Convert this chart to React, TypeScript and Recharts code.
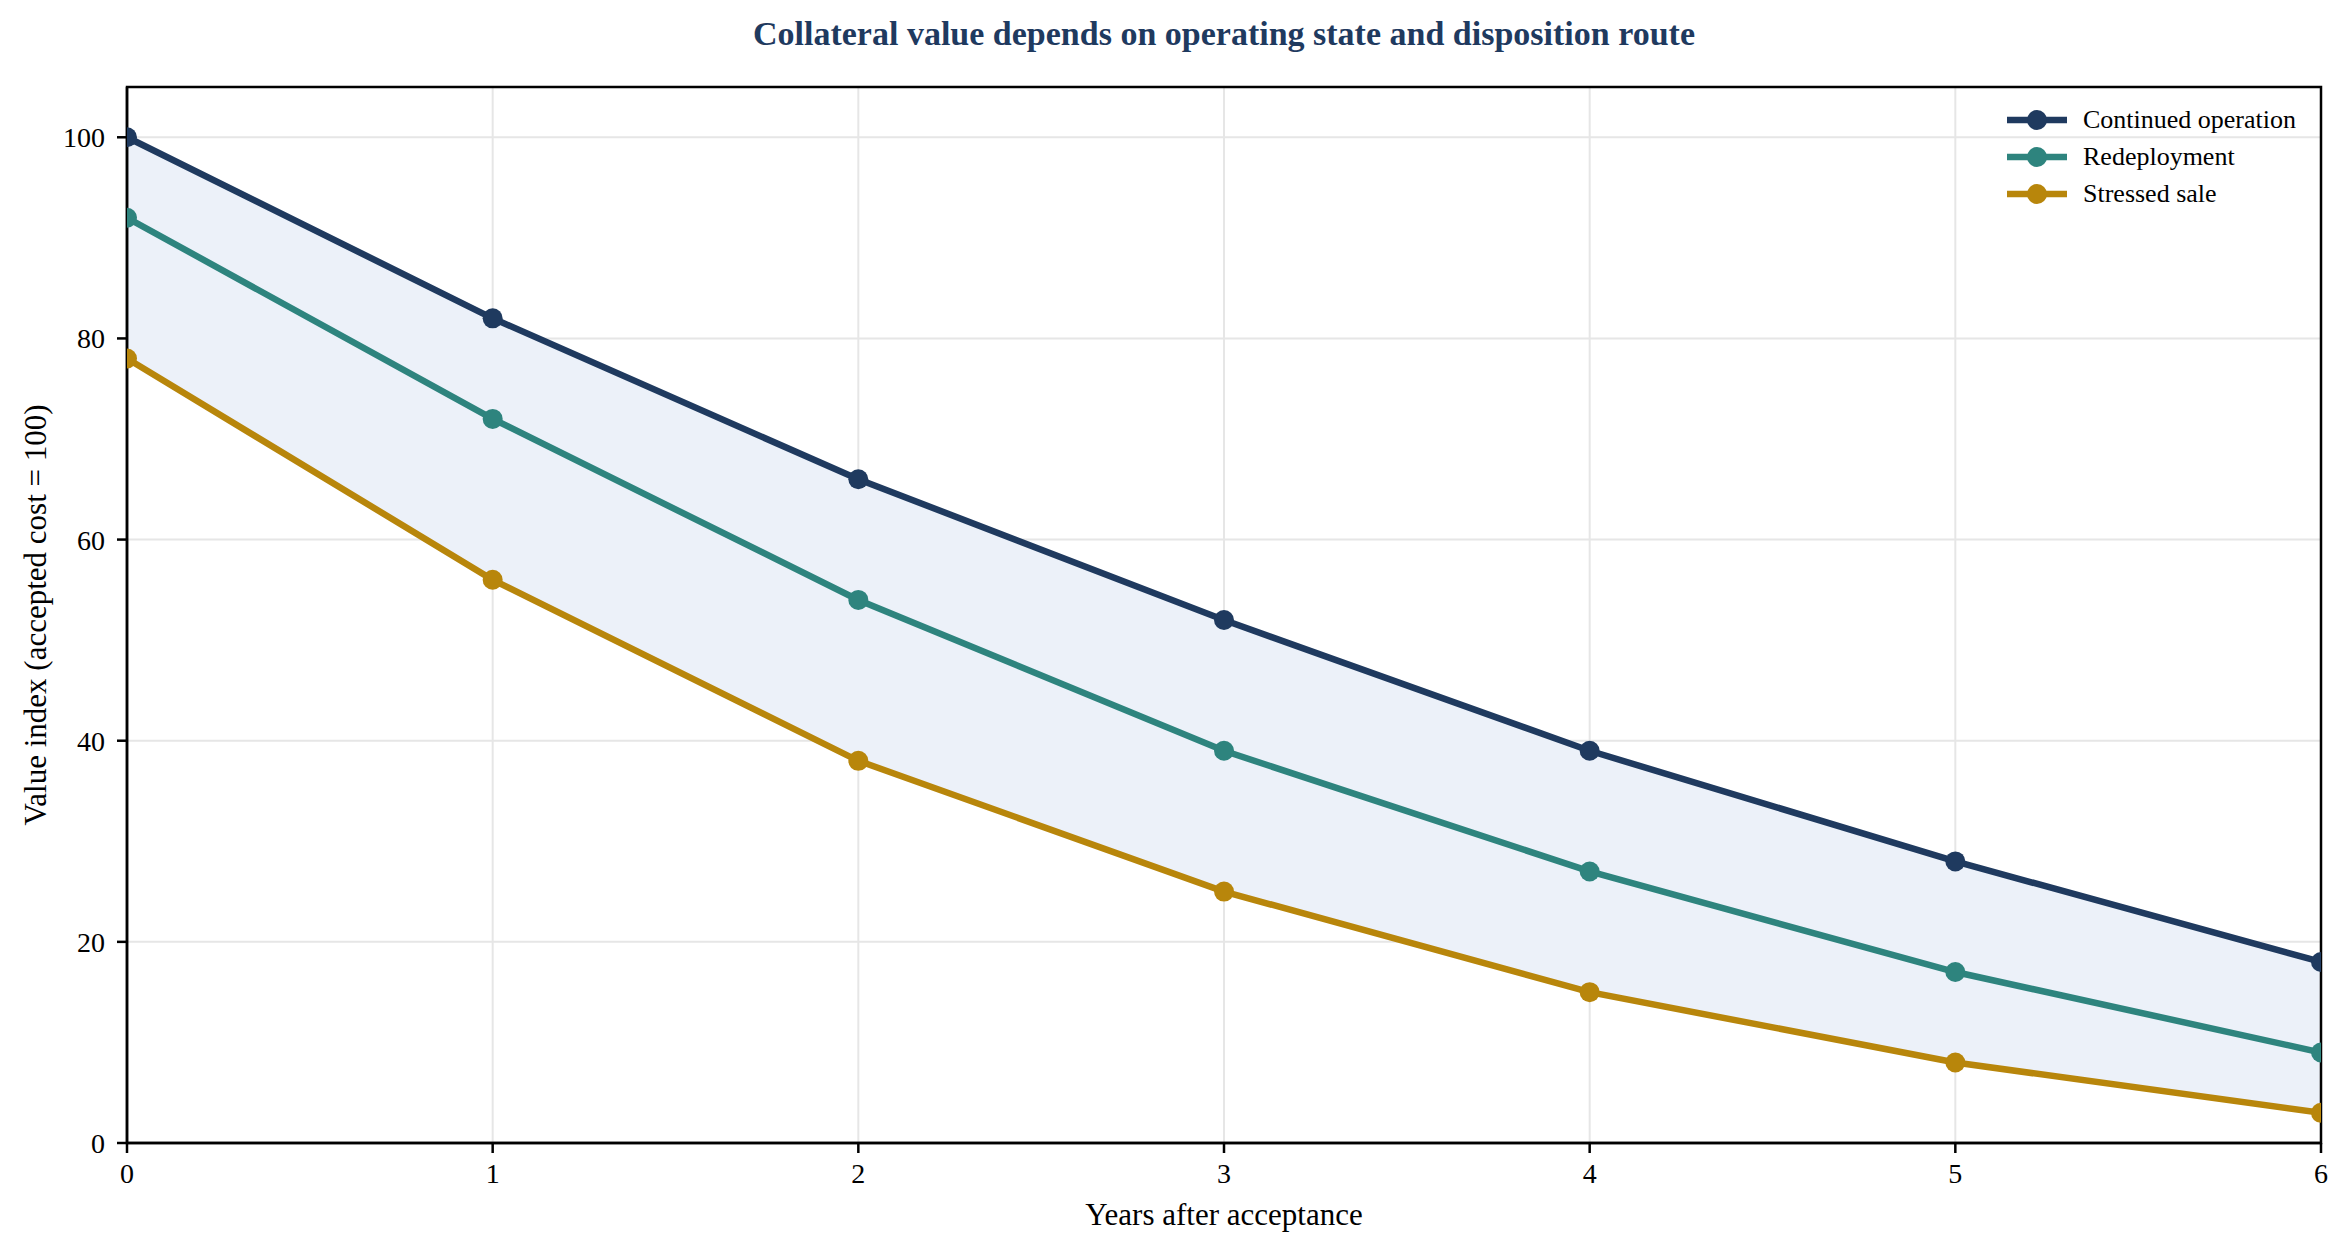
import React from 'react';
import {
  ComposedChart,
  Line,
  Area,
  XAxis,
  YAxis,
  CartesianGrid,
  ReferenceArea,
} from 'recharts';

const years = [0, 1, 2, 3, 4, 5, 6];
const continuedOperation = [100, 82, 66, 52, 39, 28, 18];
const redeployment = [92, 72, 54, 39, 27, 17, 9];
const stressedSale = [78, 56, 38, 25, 15, 8, 3];
const xTicks = [0, 1, 2, 3, 4, 5, 6];
const yTicks = [0, 20, 40, 60, 80, 100];

const seriesNames = ['Continued operation', 'Redeployment', 'Stressed sale'];
const seriesColors = ['#1f3a5f', '#2e847e', '#b8860b'];

const data = years.map((y, i) => ({
  year: y,
  continued: continuedOperation[i],
  redeploy: redeployment[i],
  stressed: stressedSale[i],
  band: [stressedSale[i], continuedOperation[i]],
}));

const FONT = '"Liberation Serif", "Times New Roman", serif';
const W = 2349;
const H = 1253;

const tickStyle = { fontFamily: FONT, fontSize: 28, fill: '#000' };

const LegendBox = () => (
  <div
    style={{
      position: 'absolute',
      left: 2007,
      top: 101,
      fontFamily: FONT,
      fontSize: 26,
      color: '#000',
    }}
  >
    {seriesNames.map((name, i) => (
      <div key={name} style={{ display: 'flex', alignItems: 'center', height: 37 }}>
        <svg width={60} height={24} style={{ display: 'block' }}>
          <line x1={0} y1={12} x2={60} y2={12} stroke={seriesColors[i]} strokeWidth={6.5} />
          <circle cx={30} cy={12} r={10} fill={seriesColors[i]} />
        </svg>
        <span style={{ marginLeft: 16, lineHeight: '37px', whiteSpace: 'nowrap' }}>{name}</span>
      </div>
    ))}
  </div>
);

export default function App() {
  return (
    <div style={{ position: 'absolute', left: 0, top: 0, width: W, height: H, background: '#fff' }}>
      <div
        style={{
          position: 'absolute',
          left: 127,
          width: 2194,
          top: 14,
          textAlign: 'center',
          fontFamily: FONT,
          fontWeight: 'bold',
          fontSize: 34,
          color: '#1f3a5f',
          lineHeight: '40px',
        }}
      >
        Collateral value depends on operating state and disposition route
      </div>
      <ComposedChart
        width={W}
        height={H}
        data={data}
        margin={{ top: 87, right: 28, left: 0, bottom: 0 }}
      >
        <CartesianGrid stroke="#e6e6e6" strokeWidth={2} />
        <XAxis
          dataKey="year"
          type="number"
          domain={[0, 6]}
          ticks={xTicks}
          allowDataOverflow
          height={110}
          tickSize={10}
          tickMargin={10}
          tick={tickStyle}
          axisLine={{ stroke: '#000', strokeWidth: 2.5 }}
          tickLine={{ stroke: '#000', strokeWidth: 2.5 }}
          label={({ viewBox }: any) => (
            <text
              x={viewBox.x + viewBox.width / 2}
              y={viewBox.y + 82}
              textAnchor="middle"
              fontFamily={FONT}
              fontSize={31}
              fill="#000"
            >
              Years after acceptance
            </text>
          )}
        />
        <YAxis
          type="number"
          domain={[0, 105]}
          ticks={yTicks}
          allowDataOverflow
          width={127}
          tickSize={10}
          tickMargin={12}
          tick={tickStyle}
          axisLine={{ stroke: '#000', strokeWidth: 2.5 }}
          tickLine={{ stroke: '#000', strokeWidth: 2.5 }}
          label={({ viewBox }: any) => (
            <text
              x={35}
              y={viewBox.y + viewBox.height / 2}
              transform={`rotate(-90, 35, ${viewBox.y + viewBox.height / 2})`}
              textAnchor="middle"
              dominantBaseline="central"
              fontFamily={FONT}
              fontSize={31}
              fill="#000"
            >
              Value index (accepted cost = 100)
            </text>
          )}
        />
        <Area
          dataKey="band"
          type="linear"
          stroke="none"
          fill="#ecf1f9"
          fillOpacity={1}
          isAnimationActive={false}
          legendType="none"
        />
        <Line
          dataKey="continued"
          name={seriesNames[0]}
          type="linear"
          stroke={seriesColors[0]}
          strokeWidth={6.5}
          dot={{ r: 10, fill: seriesColors[0], stroke: 'none', clipDot: true }}
          activeDot={false}
          isAnimationActive={false}
        />
        <Line
          dataKey="redeploy"
          name={seriesNames[1]}
          type="linear"
          stroke={seriesColors[1]}
          strokeWidth={6.5}
          dot={{ r: 10, fill: seriesColors[1], stroke: 'none', clipDot: true }}
          activeDot={false}
          isAnimationActive={false}
        />
        <Line
          dataKey="stressed"
          name={seriesNames[2]}
          type="linear"
          stroke={seriesColors[2]}
          strokeWidth={6.5}
          dot={{ r: 10, fill: seriesColors[2], stroke: 'none', clipDot: true }}
          activeDot={false}
          isAnimationActive={false}
        />
        <ReferenceArea
          x1={0}
          x2={6}
          y1={0}
          y2={105}
          fill="none"
          fillOpacity={0}
          stroke="#000"
          strokeWidth={2.5}
          ifOverflow="visible"
        />
      </ComposedChart>
      <LegendBox />
    </div>
  );
}
